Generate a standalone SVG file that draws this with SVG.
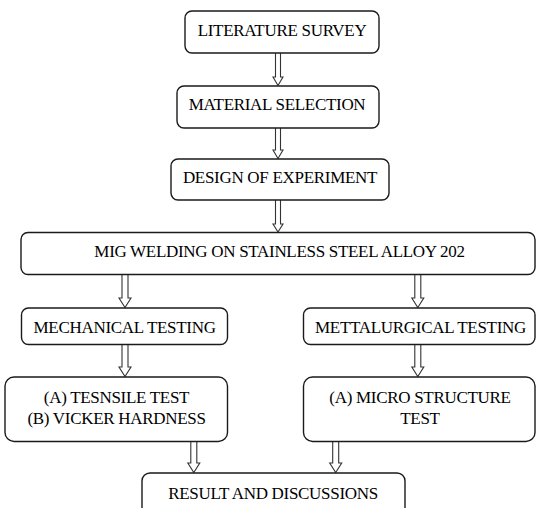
<svg xmlns="http://www.w3.org/2000/svg" width="536" height="508" viewBox="0 0 536 508">
<style>
.box{fill:#fff;stroke:#1a1a1a;stroke-width:1.4}
text{font-family:'Liberation Serif','Times New Roman',Times,serif;font-size:17px;letter-spacing:-0.3px;fill:#000;text-anchor:middle}
.arr{fill:#fff;stroke:#333;stroke-width:1.1;stroke-linejoin:miter}
</style>
<rect width="536" height="508" fill="#fff"/>
<g id="connectors">
<path class="arr" d="M275.5,53 V77 H273 L278,85.5 L283,77 H280.5 V53"/>
<path class="arr" d="M275.5,128 V150 H273 L278,158.5 L283,150 H280.5 V128"/>
<path class="arr" d="M275.5,200 V224 H273 L278,232 L283,224 H280.5 V200"/>
<path class="arr" d="M122,275 V298 H119 L125,307.5 L131,298 H128 V275"/>
<path class="arr" d="M414.8,275 V298 H411.8 L417.8,307.5 L423.8,298 H420.8 V275"/>
<path class="arr" d="M122,344.5 V367 H119 L125,376.5 L131,367 H128 V344.5"/>
<path class="arr" d="M414.8,344.5 V367 H411.8 L417.8,376.5 L423.8,367 H420.8 V344.5"/>
<path class="arr" d="M190.8,441.5 V463 H187.8 L193.8,472.5 L199.8,463 H196.8 V441.5"/>
<path class="arr" d="M332.7,441.5 V463 H329.7 L335.7,472.5 L341.7,463 H338.7 V441.5"/>
</g>
<g id="literature-survey">
<rect class="box" x="185" y="11" width="194" height="42" rx="7"/>
<text x="282" y="35.5" font-family="Liberation Serif, serif">LITERATURE SURVEY</text>
</g>
<g id="material-selection">
<rect class="box" x="177" y="86" width="202" height="42" rx="7"/>
<text x="277" y="110">MATERIAL SELECTION</text>
</g>
<g id="design-of-experiment">
<rect class="box" x="171" y="159" width="218" height="41" rx="7"/>
<text x="280" y="183">DESIGN OF EXPERIMENT</text>
</g>
<g id="mig-welding">
<rect class="box" x="21" y="232.5" width="514" height="42" rx="7"/>
<text x="279.5" y="257">MIG WELDING ON STAINLESS STEEL ALLOY 202</text>
</g>
<g id="mechanical-testing">
<rect class="box" x="21.5" y="308" width="206" height="36.5" rx="7"/>
<text x="124.6" y="333">MECHANICAL TESTING</text>
</g>
<g id="metallurgical-testing">
<rect class="box" x="303.5" y="308" width="231.5" height="36.5" rx="7"/>
<text x="420.5" y="333">METTALURGICAL TESTING</text>
</g>
<g id="tensile-vicker">
<rect class="box" x="5" y="377" width="222.5" height="64.5" rx="9"/>
<text x="116.5" y="403">(A) TESNSILE TEST</text>
<text x="116.5" y="424">(B) VICKER HARDNESS</text>
</g>
<g id="micro-structure">
<rect class="box" x="303.5" y="377" width="231.5" height="64.5" rx="9"/>
<text x="420" y="403">(A) MICRO STRUCTURE</text>
<text x="420" y="424">TEST</text>
</g>
<g id="result">
<rect class="box" x="142" y="473" width="263" height="50" rx="8"/>
<text x="273" y="499">RESULT AND DISCUSSIONS</text>
</g>
</svg>
